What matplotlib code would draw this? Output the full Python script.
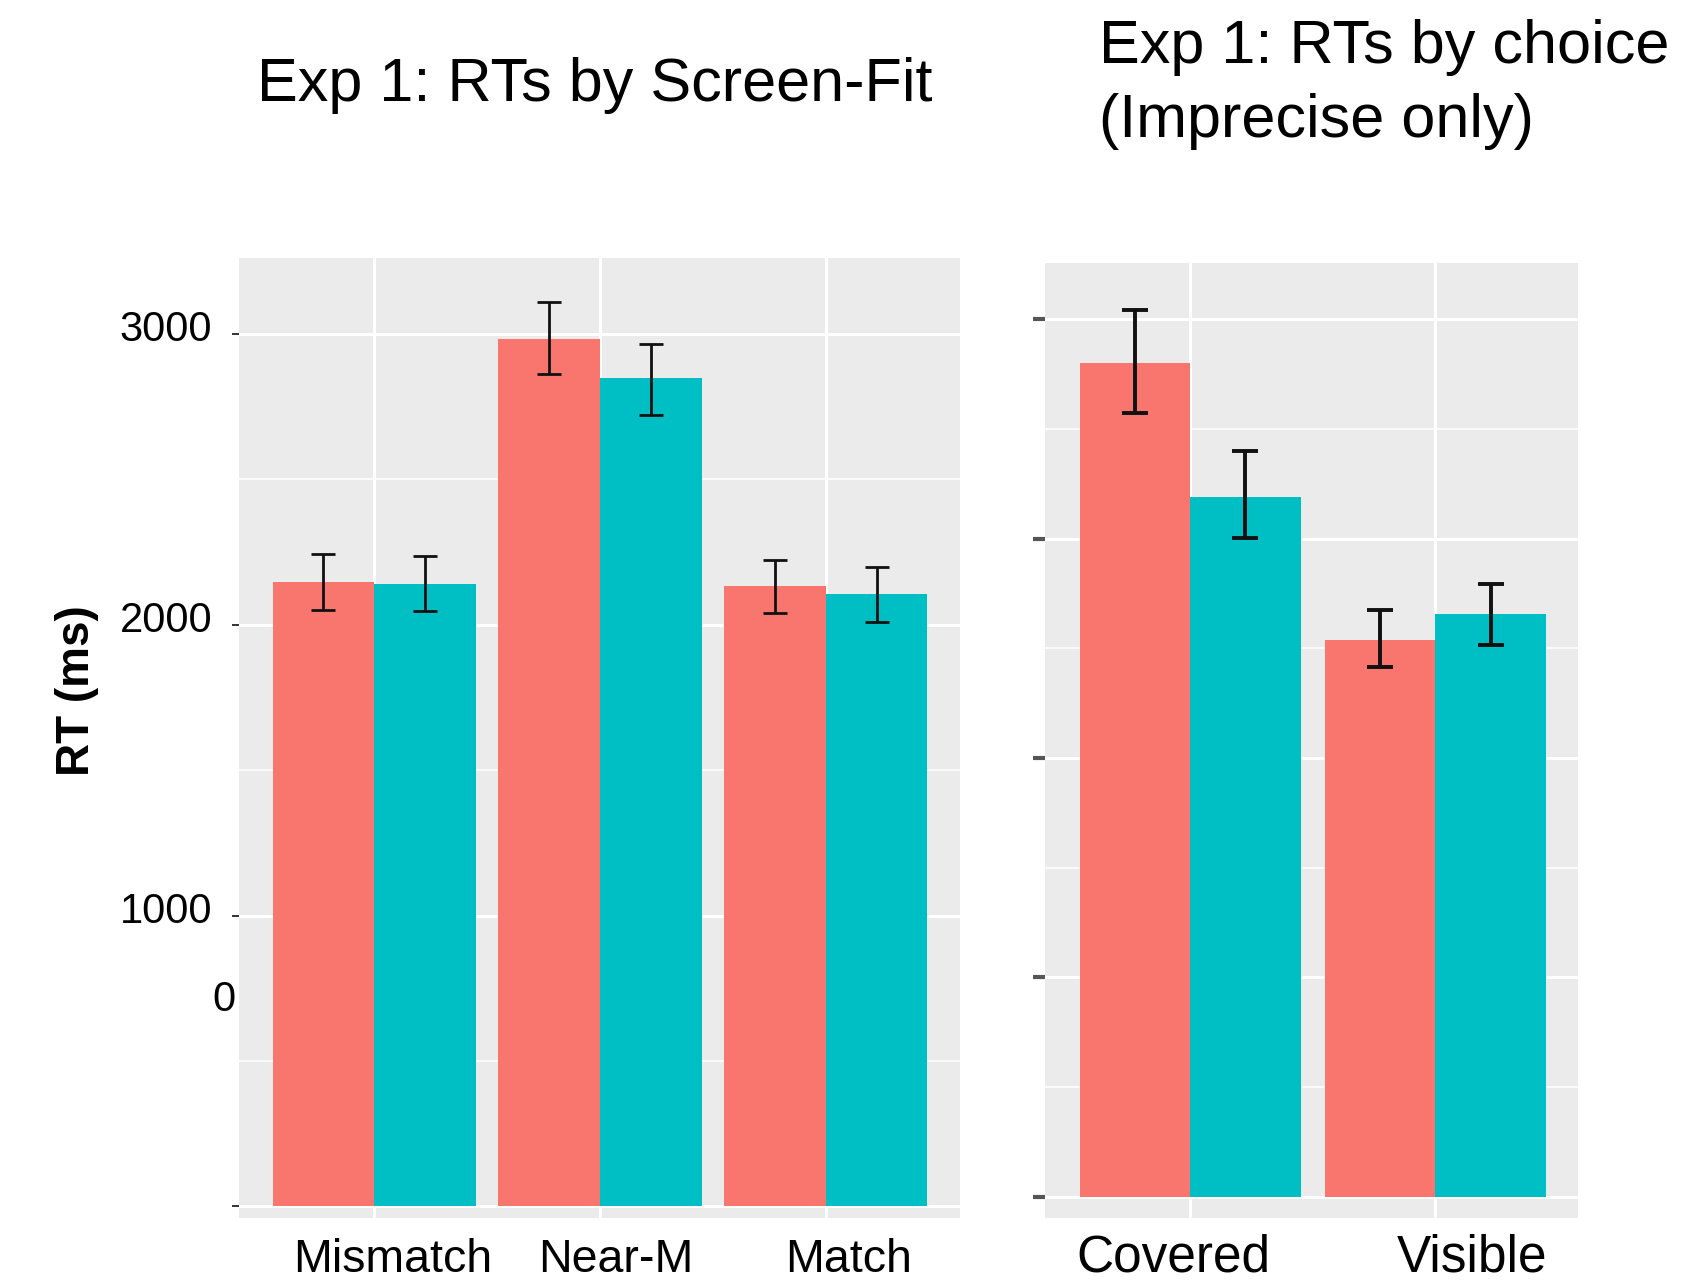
import matplotlib
matplotlib.use("Agg")
import matplotlib.pyplot as plt
import matplotlib.transforms as mtransforms
import numpy as np

# ---------------- data ----------------
fit_categories = ["Mismatch", "Near-M", "Match"]
fit_red = [2148, 2983, 2133]
fit_red_lo = [2052, 2861, 2041]
fit_red_hi = [2244, 3109, 2222]
fit_teal = [2140, 2847, 2107]
fit_teal_lo = [2048, 2721, 2011]
fit_teal_hi = [2237, 2965, 2200]

choice_categories = ["Covered", "Visible"]
choice_red = [3799, 2539]
choice_red_lo = [3574, 2417]
choice_red_hi = [4044, 2676]
choice_teal = [3191, 2657]
choice_teal_lo = [3005, 2515]
choice_teal_hi = [3402, 2794]

left_ticks = [0, 1000, 2000, 3000]
left_tick_labels = ["", "1000", "2000", "3000"]
right_ticks = [0, 1000, 2000, 3000, 4000]

RED = "#F8766D"
TEAL = "#00BFC4"
BG = "#EBEBEB"

plt.rcParams["font.family"] = ["Liberation Sans", "DejaVu Sans"]

fig = plt.figure(figsize=(16.86, 12.85), dpi=100)

def style_panel(ax, major, minor):
    ax.set_facecolor(BG)
    for s in ax.spines.values():
        s.set_visible(False)
    ax.set_yticks(major)
    ax.set_yticks(minor, minor=True)
    ax.grid(which="major", axis="both", color="white", linewidth=2.2)
    ax.grid(which="minor", axis="y", color="white", linewidth=1.1)
    ax.tick_params(axis="y", which="minor", length=0)
    ax.tick_params(axis="x", length=0, labelbottom=False)
    ax.set_axisbelow(True)

def draw_bars(ax, n, red, rlo, rhi, teal, tlo, thi, lw, cap):
    x = np.arange(1, n + 1)
    w = 0.45
    ax.bar(x - w / 2, red, width=w, color=RED, zorder=2)
    ax.bar(x + w / 2, teal, width=w, color=TEAL, zorder=2)
    r = np.array(red); rl = np.array(rlo); rh = np.array(rhi)
    t = np.array(teal); tl = np.array(tlo); th = np.array(thi)
    ax.errorbar(x - w / 2, r, yerr=[r - rl, rh - r], fmt="none", ecolor="#111111",
                elinewidth=lw, capsize=cap, capthick=lw, zorder=3)
    ax.errorbar(x + w / 2, t, yerr=[t - tl, th - t], fmt="none", ecolor="#111111",
                elinewidth=lw, capsize=cap, capthick=lw, zorder=3)
    ax.set_xticks(x)

# ---------------- left panel ----------------
axL = fig.add_axes([0.1416, 0.0519, 0.4279, 0.7473])
style_panel(axL, left_ticks, [500, 1500, 2500])
draw_bars(axL, 3, fit_red, fit_red_lo, fit_red_hi, fit_teal, fit_teal_lo, fit_teal_hi, 2.0, 8.5)
axL.set_xlim(0.4, 3.595)
axL.set_ylim(-41, 3261)
axL.set_yticklabels(left_tick_labels, fontsize=30)
axL.tick_params(axis="y", which="major", length=5, width=1.4, color="#333333", pad=14)
for lab in axL.get_yticklabels():
    lab.set_va("center")
    lab.set_transform(lab.get_transform() + mtransforms.ScaledTranslation(0, 4 / 100, fig.dpi_scale_trans))
axL.text(-0.005, 710, "0", transform=mtransforms.blended_transform_factory(axL.transAxes, axL.transData),
         ha="right", va="center", fontsize=30)
axL.set_ylabel("RT (ms)", fontsize=33, fontweight="bold", labelpad=12)
axL.yaxis.set_label_coords(-0.193, 0.55)

trL = mtransforms.blended_transform_factory(axL.transData, fig.transFigure)
for i, (c, off) in enumerate(zip(fit_categories, [0.08, 0.07, 0.1])):
    axL.text(i + 1 + off, 0.0195, c, transform=trL, ha="center", va="center", fontsize=33.5)

# ---------------- right panel ----------------
axR = fig.add_axes([0.6199, 0.0519, 0.3163, 0.7431])
style_panel(axR, right_ticks, [500, 1500, 2500, 3500])
draw_bars(axR, 2, choice_red, choice_red_lo, choice_red_hi, choice_teal, choice_teal_lo, choice_teal_hi, 2.8, 9.5)
axR.set_xlim(0.408, 2.583)
axR.set_ylim(-98, 4255)
axR.tick_params(axis="y", which="major", length=9, width=3, color="#555555", labelleft=False)

trR = mtransforms.blended_transform_factory(axR.transData, fig.transFigure)
for i, (c, off) in enumerate(zip(choice_categories, [-0.07, 0.15])):
    axR.text(i + 1 + off, 0.021, c, transform=trR, ha="center", va="center", fontsize=37)

# ---------------- titles ----------------
fig.text(0.3527, 0.9335, "Exp 1: RTs by Screen-Fit", ha="center", va="center", fontsize=44)
fig.text(0.6518, 0.985, "Exp 1: RTs by choice\n(Imprecise only)", ha="left", va="top",
         fontsize=44, linespacing=1.38)

fig.savefig("out.png", dpi=100, facecolor="white")
